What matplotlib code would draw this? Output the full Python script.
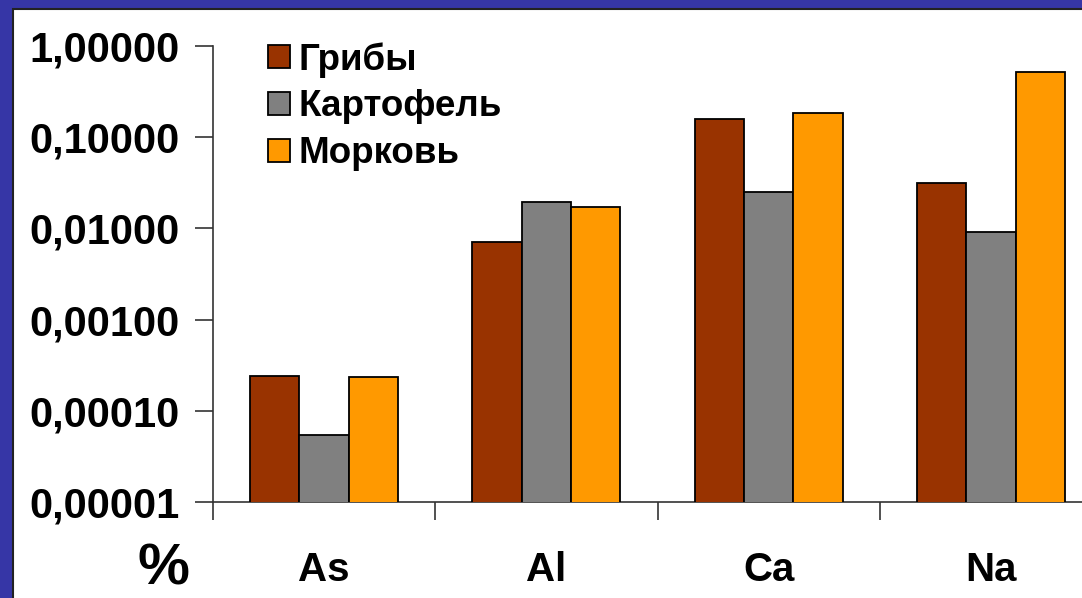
import matplotlib
matplotlib.use("Agg")
import matplotlib.pyplot as plt
from matplotlib.patches import Rectangle
from matplotlib.ticker import FixedLocator, FuncFormatter
import numpy as np

plt.rcParams['font.family'] = ['Liberation Sans', 'DejaVu Sans']
plt.rcParams['font.weight'] = 'bold'

# data
categories = ['As', 'Al', 'Ca', 'Na']
series_names = ['Грибы', 'Картофель', 'Морковь']
gribi = [0.000241, 0.0071, 0.158, 0.0315]
kartofel = [0.000054, 0.0195, 0.0251, 0.0091]
morkov = [0.000232, 0.0172, 0.184, 0.513]
colors = ['#993300', '#808080', '#FF9900']
y_ticks = [0.00001, 0.0001, 0.001, 0.01, 0.1, 1.0]

W, H = 1082, 598
fig = plt.figure(figsize=(W / 100, H / 100), dpi=100)
fig.patch.set_facecolor('#3636A6')

# white slide panel behind the chart
fig.patches.append(Rectangle((13 / W, -0.1), 1.1, 1.1 - 9 / H, transform=fig.transFigure,
                             facecolor='white', edgecolor='#222222', linewidth=1.5,
                             zorder=-10))

ax = fig.add_axes([213 / W, 1 - 502 / H, (1102 - 213) / W, (502 - 46) / H])
ax.set_facecolor('none')
ax.set_zorder(5)

x = np.arange(len(categories))
bw = 0.222
for i, (vals, name) in enumerate(zip([gribi, kartofel, morkov], series_names)):
    ax.bar(x + (i - 1) * bw, vals, width=bw, color=colors[i], edgecolor='black',
           linewidth=1.3, label=name, zorder=3)

ax.set_yscale('log')
ax.set_ylim(1e-5, 1)
ax.set_xlim(-0.5, len(categories) - 0.5)

ax.yaxis.set_major_locator(FixedLocator(y_ticks))
ax.yaxis.set_minor_locator(FixedLocator([]))
ax.yaxis.set_major_formatter(FuncFormatter(lambda v, p: f"{v:.5f}".replace('.', ',')))

# category boundaries as ticks, labels at centres
ax.xaxis.set_major_locator(FixedLocator(np.arange(len(categories) + 1) - 0.5))
ax.xaxis.set_major_formatter(FuncFormatter(lambda v, p: ''))
ax.set_xticks(x, minor=True)
ax.set_xticklabels(categories, minor=True)

ax.tick_params(axis='y', which='major', direction='out', length=13, width=1.2,
               color='#333333', labelsize=30, pad=11)
ax.tick_params(axis='x', which='major', direction='out', length=13, width=1.2,
               color='#333333')
ax.tick_params(axis='x', which='minor', length=0, labelsize=29, pad=35)

for s in ['top', 'right']:
    ax.spines[s].set_visible(False)
for s in ['left', 'bottom']:
    ax.spines[s].set_color('#333333')
    ax.spines[s].set_linewidth(1.2)

fig.text(163 / W, 0.003, '%', fontsize=42, fontweight='bold', ha='center', va='bottom')

ax.legend(loc='upper left', bbox_to_anchor=(268 / W, 1 - 42 / H), bbox_transform=fig.transFigure,
          frameon=False, fontsize=26.5, handlelength=0.6, handleheight=0.6,
          handletextpad=0.22, labelspacing=0.32, borderpad=0, borderaxespad=0)

fig.savefig('out.png', dpi=100, facecolor=fig.get_facecolor())
